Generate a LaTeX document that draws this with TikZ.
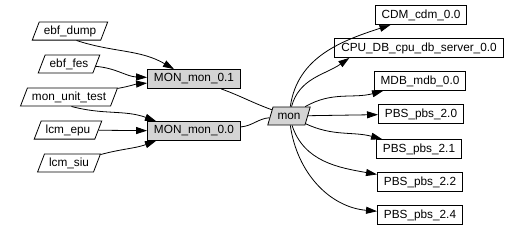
\documentclass[tikz,border=0pt]{standalone}
\usepackage{fontspec}
\setmainfont{Liberation Sans}
\usetikzlibrary{shapes.geometric,arrows.meta}

\begin{document}
\begin{tikzpicture}[
    x=1pt, y=1pt,
    every node/.style={font=\fontsize{11.8}{13}\selectfont},
    unit/.style={
        trapezium,
        trapezium left angle=69,
        trapezium right angle=111,
        trapezium stretches=true,
        draw,
        line width=0.8pt,
        inner xsep=4.5pt,
        inner ysep=3.6pt,
        minimum height=18pt
    },
    comp/.style={
        rectangle,
        draw,
        line width=0.8pt,
        inner xsep=6.5pt,
        inner ysep=0pt,
        minimum height=19pt
    },
    grey/.style={fill=black!17},
    arrow/.style={-{Triangle[length=11pt,width=7pt]}, line width=0.8pt},
    link/.style={line width=0.8pt}
]
\useasboundingbox (0,0) rectangle (521,231);

% users of the module
\node[unit] (ebfdump) at (70,200) {ebf\_dump};
\node[unit] (ebffes) at (69,167) {ebf\_fes};
\node[unit] (monunit) at (69,134) {mon\_unit\_test};
\node[unit] (lcmepu) at (68,101) {lcm\_epu};
\node[unit] (lcmsiu) at (69,68) {lcm\_siu};

% versions
\node[comp, grey] (mon01) at (194,152) {MON\_mon\_0.1};
\node[comp, grey] (mon00) at (194,100) {MON\_mon\_0.0};

\node[unit, grey] (mon) at (289,115) {mon};

% dependencies
\node[comp] (cdm) at (421,216) {CDM\_cdm\_0.0};
\node[comp] (cpudb) at (419,183) {CPU\_DB\_cpu\_db\_server\_0.0};
\node[comp] (mdb) at (420,150) {MDB\_mdb\_0.0};
\node[comp] (pbs20) at (421,117) {PBS\_pbs\_2.0};
\node[comp] (pbs21) at (419,82) {PBS\_pbs\_2.1};
\node[comp] (pbs22) at (420,49) {PBS\_pbs\_2.2};
\node[comp] (pbs24) at (420,16) {PBS\_pbs\_2.4};

\draw[arrow] ([xshift=-3pt]ebfdump.south east) to[out=-18, in=150] ([xshift=-20pt]mon01.north);
\draw[arrow] (ebffes) to[out=-5, in=178] (mon01);
\draw[arrow] (monunit) to[out=10, in=185] (mon01);
\draw[arrow] ([xshift=-7pt]monunit.south east) to[out=-15, in=160] ([xshift=-38pt]mon00.north);
\draw[arrow] (lcmepu) -- (mon00);
\draw[arrow] (lcmsiu) to[out=15, in=-160] ([xshift=-38pt]mon00.south);

\draw[link] (mon01) to[out=-20, in=160] (mon);
\draw[link] (mon00) to[out=5, in=185] (mon);

\draw[arrow] (mon) to[out=82, in=198] (cdm);
\draw[arrow] (mon) to[out=75, in=215] ([xshift=15pt]cpudb.south west);
\draw[arrow] (mon) to[out=30, in=195] (mdb);
\draw[arrow] (mon) -- (pbs20);
\draw[arrow] (mon) to[out=-25, in=165] (pbs21);
\draw[arrow] (mon) to[out=-72, in=170] (pbs22);
\draw[arrow] (mon) to[out=-82, in=175] (pbs24);

\end{tikzpicture}
\end{document}
